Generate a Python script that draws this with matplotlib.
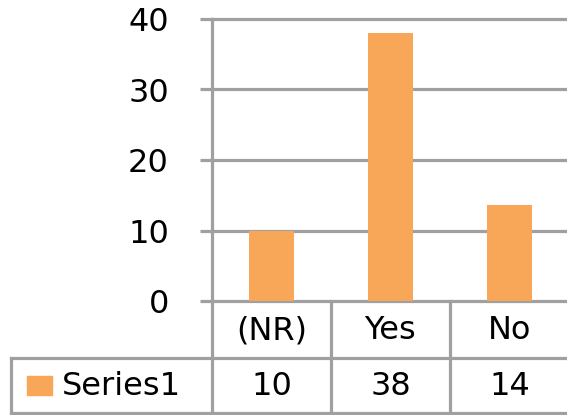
import matplotlib
matplotlib.use("Agg")
import matplotlib.pyplot as plt
from matplotlib.patches import Rectangle

# data
categories = ["(NR)", "Yes", "No"]
values = [10, 38, 13.6]
series_name = "Series1"
yticks = [0, 10, 20, 30, 40]

bar_color = "#F8A758"
grid_color = "#A0A0A0"
W, H = 567, 415
fs = 23

plt.rcParams['font.family'] = ['DejaVu Sans']

fig = plt.figure(figsize=(W / 100, H / 100), dpi=100)

# plot area in pixels: left 212, right 569, top 19, bottom 301
x0, x1, ytop, y0 = 212, 569, 19, 301
ax = fig.add_axes([x0 / W, (H - y0) / H, (x1 - x0) / W, (y0 - ytop) / H])
xs = range(len(categories))
ax.bar(xs, values, width=0.38, color=bar_color, zorder=3)
ax.set_xlim(-0.5, len(categories) - 0.5)
ax.set_ylim(0, 40)
ax.set_yticks(yticks)
ax.set_xticks([])
ax.yaxis.grid(True, color=grid_color, linewidth=2.3)
for gl in ax.get_ygridlines():
    gl.set_clip_on(False)
ax.set_axisbelow(True)
for s in ["top", "right", "bottom"]:
    ax.spines[s].set_visible(False)
ax.spines["left"].set_color(grid_color)
ax.spines["left"].set_linewidth(2.3)
ax.tick_params(axis="y", length=9, width=2.3, color=grid_color,
               labelsize=fs, pad=22)
ax.set_facecolor("none")

# data table underneath, in figure pixel coordinates
tab = fig.add_axes([0, 0, 1, 1], zorder=-1)
tab.set_xlim(0, W)
tab.set_ylim(H, 0)
tab.axis("off")
cw = (x1 - x0) / len(categories)
row1_top, row1_bot, row2_bot, left = y0, 358, 413, 11
lw = 2.3
tab.plot([left, W + 5], [row1_bot, row1_bot], color=grid_color, lw=lw)
tab.plot([left, W + 5], [row2_bot, row2_bot], color=grid_color, lw=lw)
tab.plot([left, left], [row1_bot, row2_bot], color=grid_color, lw=lw)
for i in range(len(categories) + 1):
    xb = x0 + i * cw
    tab.plot([xb, xb], [row1_top, row2_bot], color=grid_color, lw=lw)
for i, (c, v) in enumerate(zip(categories, values)):
    xc = x0 + (i + 0.5) * cw
    tab.text(xc, (row1_top + row1_bot) / 2 + 1, c, ha="center", va="center", fontsize=fs)
    tab.text(xc, (row1_bot + row2_bot) / 2 + 1, f"{round(v)}", ha="center", va="center", fontsize=fs)
tab.add_patch(Rectangle((27, 376), 25, 19, color=bar_color))
tab.text(62, (row1_bot + row2_bot) / 2 + 1, series_name, ha="left", va="center", fontsize=fs)

fig.savefig("out.png", dpi=100)
